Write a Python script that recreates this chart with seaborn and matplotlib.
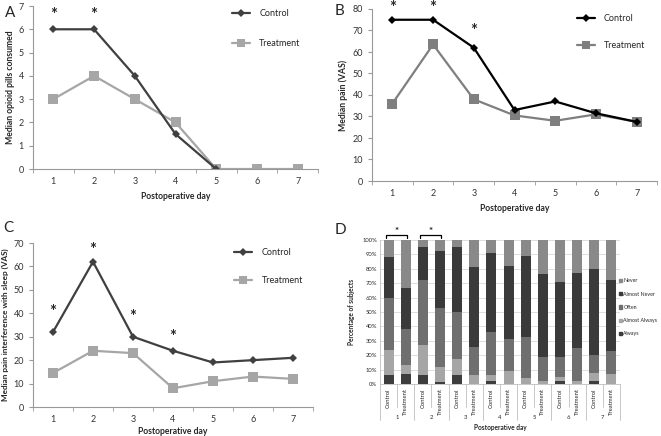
import numpy as np
import pandas as pd
import matplotlib
matplotlib.use("Agg")
import matplotlib.pyplot as plt
import seaborn as sns
from matplotlib.lines import Line2D
from matplotlib.patches import Patch

sns.set_style("white")
plt.rcParams['font.family'] = ['Lato', 'DejaVu Sans']

# ---------------- data ----------------
days = [1, 2, 3, 4, 5, 6, 7]

pills_control = [6, 6, 4, 1.5, 0, np.nan, np.nan]
pills_treatment = [3, 4, 3, 2, 0, 0, 0]

pain_control = [75, 75, 62, 33, 37, 31.5, 27.5]
pain_treatment = [36, 63.5, 38, 30.5, 28, 31, 27.5]

sleep_control = [32, 62, 30, 24, 19, 20, 21]
sleep_treatment = [14.5, 24, 23, 8, 11, 13, 12]

stars_a = [1, 2]
stars_b = [1, 2, 3]
stars_c = [1, 2, 3, 4]

# panel D: share (%) of each answer, bars ordered Control/Treatment for each day
bar_groups = ["Control", "Treatment"] * 7
bar_days = [d for d in days for _ in range(2)]
always = [6.5, 7.2, 6.0, 1.6, 6.5, 0.0, 1.8, 0.0, 0.0, 0.0, 1.8, 0.0, 2.3, 0.0]
almost_always = [17.3, 6.2, 21.3, 9.9, 10.8, 6.0, 4.2, 8.8, 4.2, 1.8, 2.8, 1.8, 5.3, 6.9]
often = [35.8, 24.7, 45.0, 41.5, 33.0, 19.9, 30.0, 22.4, 28.4, 17.1, 14.3, 23.1, 12.3, 15.7]
almost_never = [28.4, 28.9, 23.1, 39.4, 45.1, 55.6, 55.2, 50.8, 56.5, 57.5, 52.2, 52.0, 60.0, 49.7]
never = [11.9, 33.0, 4.6, 7.6, 4.6, 18.5, 8.8, 18.0, 10.9, 23.6, 28.9, 23.1, 20.1, 27.7]
categories = ["Always", "Almost Always", "Often", "Almost Never", "Never"]
cat_colors = {"Always": "#3d3d3d", "Almost Always": "#a6a6a6", "Often": "#6f6f6f",
              "Almost Never": "#3a3a3a", "Never": "#898989"}

W, H = 661, 436
fig = plt.figure(figsize=(W / 100, H / 100), dpi=100)


def add_ax(x0, y0, x1, y1):
    return fig.add_axes([x0 / W, 1 - y1 / H, (x1 - x0) / W, (y1 - y0) / H])


TFS = 6.5   # tick font
LFS = 6.2   # label font


def line_panel(ax, ctrl, trt, ctrl_color, trt_color, ymax, ystep, ylabel, ylabel_fs,
               stars, star_y, leg_x, leg_y, leg_space, xlabelpad):
    df_c = pd.DataFrame({"day": days, "val": ctrl}).dropna()
    df_t = pd.DataFrame({"day": days, "val": trt}).dropna()
    sns.lineplot(data=df_t, x="day", y="val", ax=ax, color=trt_color, marker="s",
                 markersize=7, markeredgewidth=0, linewidth=1.6, label="Treatment")
    sns.lineplot(data=df_c, x="day", y="val", ax=ax, color=ctrl_color, marker="D",
                 markersize=4.5, markeredgewidth=0, linewidth=1.6, label="Control")
    ax.set_xlim(0.5, 7.5)
    ax.set_ylim(0, ymax)
    ax.set_yticks(np.arange(0, ymax + 0.01, ystep))
    ax.set_xticks(days)
    ax.set_xticks(np.arange(0.5, 7.6, 1), minor=True)
    ax.tick_params(axis="x", which="major", length=0, labelsize=TFS, pad=6, colors="#333333")
    ax.tick_params(axis="x", which="minor", length=3, color="#999999", bottom=True)
    ax.tick_params(axis="y", length=3, labelsize=TFS, left=True, colors="#333333")
    ax.tick_params(axis="y", color="#999999")
    for s in ["top", "right"]:
        ax.spines[s].set_visible(False)
    for s in ["left", "bottom"]:
        ax.spines[s].set_color("#999999")
        ax.spines[s].set_linewidth(0.8)
    ax.set_xlabel("Postoperative day", fontsize=LFS, fontweight="bold", labelpad=xlabelpad)
    ax.set_ylabel(ylabel, fontsize=ylabel_fs, fontweight="bold", labelpad=3)
    for d, y in zip(stars, star_y):
        ax.annotate("*", xy=(d, y), xytext=(0, -6.0), textcoords="offset points",
                    ha="center", va="baseline", fontsize=12, fontweight="bold",
                    annotation_clip=False)
    handles = [Line2D([], [], color=ctrl_color, marker="D", markersize=4, lw=1.6, markeredgewidth=0),
               Line2D([], [], color=trt_color, marker="s", markersize=5.5, lw=1.6, markeredgewidth=0)]
    ax.legend(handles, ["Control", "Treatment"], loc="upper left", bbox_to_anchor=(leg_x, leg_y),
              frameon=False, fontsize=TFS, labelspacing=leg_space, handlelength=2.0,
              handletextpad=1.0)


axA = add_ax(33, 6, 318, 169)
line_panel(axA, pills_control, pills_treatment, "#404040", "#a6a6a6", 7, 1,
           "Median opioid pills consumed", LFS, stars_a, [6.74, 6.74], 0.67, 1.03, 2.3, 4)
axB = add_ax(372, 9, 657, 181)
line_panel(axB, pain_control, pain_treatment, "#000000", "#7f7f7f", 80, 10,
           "Median pain (VAS)", LFS, stars_b, [81.9, 81.9, 71.2], 0.69, 1.02, 2.0, 4)
axC = add_ax(33, 243, 313, 407)
line_panel(axC, sleep_control, sleep_treatment, "#404040", "#a6a6a6", 70, 10,
           "Median pain interference with sleep (VAS)", 5.9, stars_c,
           [41.8, 68.3, 39.7, 31.2], 0.69, 1.02, 2.1, 2)

fig.text(5 / W, 1 - 13 / H, "A", fontsize=11, va="center", ha="left")
fig.text(335 / W, 1 - 11 / H, "B", fontsize=11, va="center", ha="left")
fig.text(3 / W, 1 - 228 / H, "C", fontsize=11, va="center", ha="left")
fig.text(335 / W, 1 - 230 / H, "D", fontsize=11, va="center", ha="left")

# ---------------- panel D ----------------
axD = add_ax(380, 240, 620, 384)
dfD = pd.DataFrame({"bar": list(range(14)), "day": bar_days, "group": bar_groups,
                    "Always": always, "Almost Always": almost_always, "Often": often,
                    "Almost Never": almost_never, "Never": never})
cum = np.zeros(14)
tops = {}
for c in categories:
    cum = cum + dfD[c].values
    tops[c] = cum.copy()
for c in reversed(categories):
    d = pd.DataFrame({"bar": [str(i) for i in range(14)], "top": tops[c]})
    sns.barplot(data=d, x="bar", y="top", ax=axD, color=cat_colors[c], width=0.58,
                saturation=1, linewidth=0, zorder=3)
axD.set_ylim(0, 100)
axD.set_xlim(-0.5, 13.5)
axD.set_yticks(np.arange(0, 101, 10))
axD.set_yticklabels([f"{v}%" for v in range(0, 101, 10)])
axD.yaxis.grid(True, color="#d9d9d9", linewidth=0.6, zorder=0)
axD.set_axisbelow(True)
axD.tick_params(axis="y", labelsize=4.2, length=0, pad=2)
axD.set_xticks(range(14))
axD.set_xticklabels(bar_groups, rotation=90, fontsize=4.2)
axD.tick_params(axis="x", length=0, pad=3)
for s in ["top", "right"]:
    axD.spines[s].set_visible(False)
axD.spines["left"].set_color("#bfbfbf")
axD.spines["bottom"].set_color("#bfbfbf")
axD.spines["left"].set_linewidth(0.6)
axD.spines["bottom"].set_linewidth(0.6)
axD.set_xlabel("")
axD.set_ylabel("Percentage of subjects", fontsize=4.7, fontweight="bold", labelpad=5)

trans = axD.get_xaxis_transform()
for b in np.arange(-0.5, 14, 1):
    group_edge = (int(b + 0.5) % 2 == 0)
    y_end = -0.25 if group_edge else -0.16
    axD.plot([b, b], [0, y_end], transform=trans, color="#bfbfbf", lw=0.6, clip_on=False)
for i, d in enumerate(days):
    axD.text(2 * i + 0.5, -0.23, str(d), transform=trans, ha="center", va="center", fontsize=4.2)
axD.text(6.5, -0.305, "Postoperative day", transform=trans, ha="center", va="center",
         fontsize=4.7, fontweight="bold")

# significance brackets
for g in [0, 1]:
    x0, x1 = 2 * g - 0.15, 2 * g + 1.05
    axD.plot([x0, x0, x1, x1], [101.3, 103.6, 103.6, 101.3], color="black", lw=0.9, clip_on=False)
    axD.annotate("*", xy=(2 * g + 0.45, 107.6), xytext=(0, -3.3), textcoords="offset points",
                 ha="center", va="baseline", fontsize=7, fontweight="bold", annotation_clip=False)

handlesD = [Patch(color=cat_colors[c]) for c in reversed(categories)]
axD.legend(handlesD, list(reversed(categories)), loc="upper left", bbox_to_anchor=(0.99, 0.74),
           borderaxespad=0.0, borderpad=0.2, frameon=False, fontsize=3.8, handlelength=0.6,
           handleheight=0.6, labelspacing=1.55, handletextpad=0.3)

fig.savefig("out.png", dpi=100)
